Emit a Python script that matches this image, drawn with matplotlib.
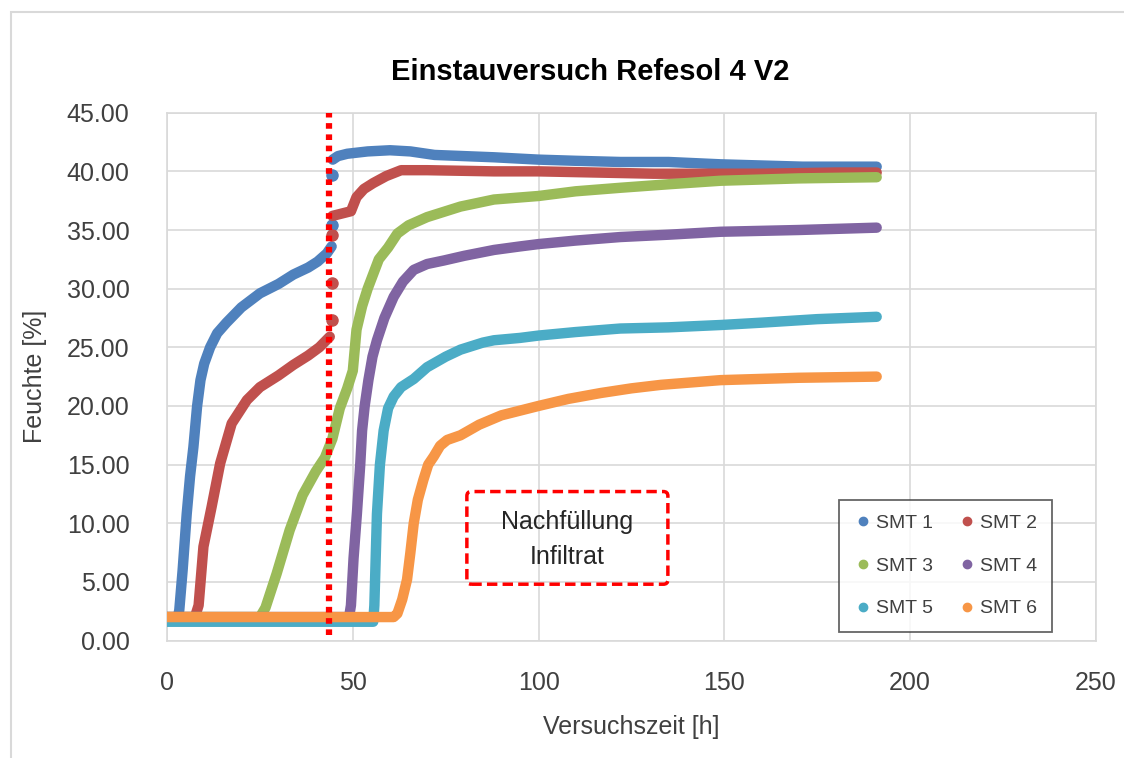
import matplotlib.pyplot as plt
from matplotlib.lines import Line2D
from matplotlib.patches import FancyBboxPatch, Rectangle

plt.rcParams['font.family'] = ['Liberation Sans', 'DejaVu Sans']

title = 'Einstauversuch Refesol 4 V2'
xlabel = 'Versuchszeit [h]'
ylabel = 'Feuchte [%]'
names = ['SMT 1', 'SMT 2', 'SMT 3', 'SMT 4', 'SMT 5', 'SMT 6']
colors = ['#4F81BD', '#C0504D', '#9BBB59', '#8064A2', '#4BACC6', '#F79646']
refill_time = 43.7
note = 'Nachfüllung\nInfiltrat'

# SMT 1
x1a = [0, 2.8, 3.3, 4.2, 5.3, 6.2, 7.1, 8.1, 9, 10, 11.6, 13.5, 16, 20, 25, 30, 34, 38, 40.5, 43, 44.3]
y1a = [1.8, 1.8, 2.6, 6, 10.8, 14, 16.5, 20, 22.2, 23.6, 25, 26.2, 27.1, 28.4, 29.6, 30.4, 31.2, 31.8, 32.3, 33.0, 33.6]
x1b = [44.6, 46, 48.5, 54, 60, 65.5, 72, 80, 88, 100, 110, 122, 135, 149, 160, 171, 191]
y1b = [41.0, 41.3, 41.5, 41.7, 41.8, 41.7, 41.4, 41.3, 41.2, 41.0, 40.9, 40.8, 40.8, 40.6, 40.5, 40.4, 40.4]
x1d = [44.5, 44.3]
y1d = [35.4, 39.7]

# SMT 2
x2a = [0, 7.5, 8.5, 9.8, 12, 14.3, 17.4, 21.5, 25, 30, 34, 38, 41, 43.8]
y2a = [2.0, 2.0, 3, 8, 11.4, 15.1, 18.5, 20.5, 21.6, 22.6, 23.5, 24.3, 25, 25.9]
x2b = [44.5, 47, 49.5, 51, 53, 55.5, 59, 63, 70, 88, 100, 131, 160, 180, 191]
y2b = [36.2, 36.4, 36.6, 37.8, 38.5, 39.0, 39.6, 40.1, 40.1, 40.0, 40.0, 39.8, 39.8, 39.9, 39.9]
x2d = [44.3, 44.5, 44.5]
y2d = [27.3, 30.5, 34.6]

# SMT 3
x3 = [0, 25, 26.5, 29.5, 33, 36.5, 40, 42.5, 44.5, 46.5, 48.5, 50, 51, 52.5, 54, 57, 59.5, 62, 65, 70,
      79, 88, 100, 110, 122, 135, 149, 170, 191]
y3 = [2.0, 2.0, 2.8, 5.7, 9.4, 12.4, 14.4, 15.6, 17.2, 19.8, 21.5, 23, 26.5, 28.5, 30, 32.5, 33.5, 34.7, 35.4, 36.1,
      37.0, 37.6, 37.9, 38.3, 38.6, 38.9, 39.2, 39.4, 39.5]

# SMT 4
x4 = [0, 49, 49.5, 50.2, 51.1, 52, 52.5, 53.2, 54.2, 55.3, 56.5, 58.5, 61, 63.5, 66.4, 70, 74.5, 80, 88,
      95, 100, 110, 122, 135, 149, 170, 191]
y4 = [2.0, 2.0, 3, 7, 10.8, 15, 17.9, 20, 22.2, 24.2, 25.6, 27.5, 29.3, 30.6, 31.6, 32.1, 32.4, 32.8, 33.3,
      33.6, 33.8, 34.1, 34.4, 34.6, 34.85, 35.0, 35.2]

# SMT 5
x5 = [0, 55.5, 55.8, 56.5, 57.3, 58.3, 59.5, 61, 63, 66.4, 70, 75, 79, 85, 88, 95, 100, 110, 122, 135,
      149, 160, 175, 191]
y5 = [1.6, 1.6, 3, 10.8, 15, 17.9, 19.8, 20.8, 21.6, 22.3, 23.3, 24.2, 24.8, 25.4, 25.6, 25.8, 26.0, 26.3, 26.6, 26.7,
      26.9, 27.1, 27.4, 27.6]

# SMT 6
x6 = [0, 61, 62, 63.3, 64.6, 65.5, 66.4, 67.5, 69, 70.3, 71.8, 73.5, 75.4, 79, 84, 90, 100, 108, 116.7,
      125, 133, 149, 170, 191]
y6 = [2.0, 2.0, 2.3, 3.5, 5.2, 7.5, 10.0, 12, 13.7, 15, 15.7, 16.6, 17.1, 17.5, 18.4, 19.2, 20.0, 20.6, 21.1,
      21.5, 21.8, 22.2, 22.4, 22.5]

fig = plt.figure(figsize=(11.24, 7.58), dpi=100)
ax = fig.add_axes([0.1486, 0.155, 0.8264, 0.6963])

fig.patches.append(Rectangle((0.0098, -0.1), 1.2, 1.0842, transform=fig.transFigure,
                             fill=False, edgecolor='#D9D9D9', lw=1.5))

lw = 7.5
ax.plot(x1a, y1a, color=colors[0], lw=lw, solid_capstyle='round', solid_joinstyle='round', zorder=3)
ax.plot(x1b, y1b, color=colors[0], lw=lw, solid_capstyle='round', solid_joinstyle='round', zorder=3)
ax.plot(x1d, y1d, 'o', color=colors[0], ms=8, zorder=3)
ax.plot(x2a, y2a, color=colors[1], lw=lw, solid_capstyle='round', solid_joinstyle='round', zorder=4)
ax.plot(x2b, y2b, color=colors[1], lw=lw, solid_capstyle='round', solid_joinstyle='round', zorder=4)
ax.plot(x2d, y2d, 'o', color=colors[1], ms=8, zorder=4)
ax.plot(x3, y3, color=colors[2], lw=lw, solid_capstyle='round', solid_joinstyle='round', zorder=5)
ax.plot(x4, y4, color=colors[3], lw=lw, solid_capstyle='round', solid_joinstyle='round', zorder=6)
ax.plot(x5, y5, color=colors[4], lw=lw, solid_capstyle='round', solid_joinstyle='round', zorder=7)
ax.plot(x6, y6, color=colors[5], lw=lw, solid_capstyle='round', solid_joinstyle='round', zorder=8)

ax.plot([refill_time, refill_time], [0.5, 45], color='red', lw=4.5, linestyle=(0, (0.9, 0.9)),
        zorder=9, clip_on=False)

box = FancyBboxPatch((80.7, 4.8), 54.1, 7.9, boxstyle='round,pad=0,rounding_size=1.2',
                     fill=False, edgecolor='#FF0000', lw=2.5, linestyle=(0, (3, 1.5)),
                     mutation_aspect=1 / 3.2, zorder=10)
ax.add_patch(box)
ax.text(107.7, 8.6, note, ha='center', va='center', fontsize=18, color='#262626',
        linespacing=1.55, zorder=11)

ax.set_xlim(0, 250)
ax.set_ylim(0, 45)
ax.set_xticks([0, 50, 100, 150, 200, 250])
yt = [0, 5, 10, 15, 20, 25, 30, 35, 40, 45]
ax.set_yticks(yt)
ax.set_yticklabels(['%.2f' % v for v in yt])
ax.tick_params(length=0, labelsize=18, labelcolor='#404040')
ax.tick_params(axis='y', pad=27)
ax.tick_params(axis='x', pad=22)
ax.grid(True, color='#D9D9D9', lw=1.2)
ax.set_axisbelow(True)
for s in ax.spines.values():
    s.set_color('#D9D9D9')
    s.set_linewidth(1.2)

ax.set_xlabel(xlabel, fontsize=18, color='#404040', labelpad=14)
ax.set_ylabel(ylabel, fontsize=18, color='#404040', labelpad=14)
fig.text(0.525, 0.905, title, ha='center', va='center', fontsize=21, fontweight='bold', color='#000000')

# row-wise order like the original legend
order = [0, 2, 4, 1, 3, 5]
handles = [Line2D([], [], marker='o', ls='', color=colors[i], ms=6) for i in order]
labels = [names[i] for i in order]
leg = ax.legend(handles, labels, ncol=2, loc='lower right', bbox_to_anchor=(0.9526, 0.016),
                borderaxespad=0, fontsize=14, frameon=True, fancybox=False, handletextpad=0.2,
                columnspacing=1.2, labelspacing=1.3, borderpad=0.75, handlelength=1.0)
leg.get_frame().set_edgecolor('#404040')
leg.get_frame().set_linewidth(1.3)
for t in leg.get_texts():
    t.set_color('#404040')

plt.savefig('out.png', dpi=100)
